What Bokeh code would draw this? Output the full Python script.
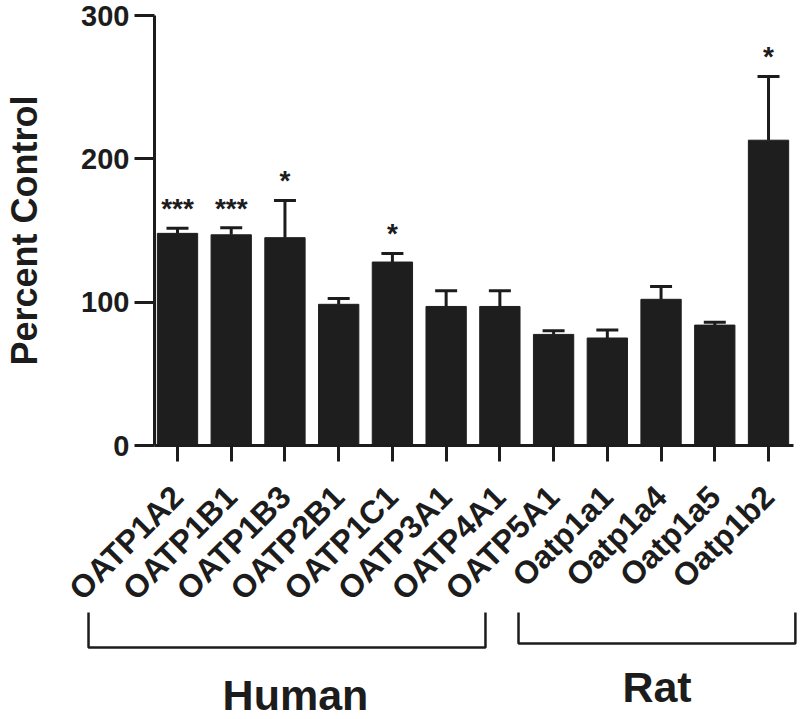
import math
from bokeh.plotting import figure
from bokeh.models import ColumnDataSource, Range1d, FixedTicker, Whisker, TeeHead, LabelSet
from bokeh.layouts import column
from bokeh.embed import file_html
from bokeh.resources import INLINE
from bokeh.core.properties import value

# ---------------- data ----------------
categories = ["OATP1A2", "OATP1B1", "OATP1B3", "OATP2B1", "OATP1C1", "OATP3A1",
              "OATP4A1", "OATP5A1", "Oatp1a1", "Oatp1a4", "Oatp1a5", "Oatp1b2"]
percent_control = [148, 147, 145, 98.5, 128, 97, 97, 77.5, 75, 102, 84, 213]
sem = [3.5, 5, 26, 4, 6, 11, 11, 2.5, 5.5, 9, 2, 44.5]
significance = ["***", "***", "*", "", "*", "", "", "", "", "", "", "*"]
y_ticks = [0, 100, 200, 300]
groups = ["Human", "Rat"]

# ---------------- styling / layout ----------------
INK = "#1c1c1c"
FONT = "Liberation Sans"
W = 800
TOP_H = 625
FRAME_L = 154
FRAME_R = 7
X0, X1 = 0.572, 12.465

positions = list(range(1, len(categories) + 1))
upper = [v + e for v, e in zip(percent_control, sem)]

src = ColumnDataSource(dict(x=positions, top=percent_control, upper=upper,
                            sig=significance, name=categories))

p = figure(width=W, height=TOP_H, x_range=Range1d(X0, X1), y_range=Range1d(0, 300),
           output_backend="svg", toolbar_location=None,
           min_border_left=FRAME_L, min_border_right=FRAME_R, min_border_top=15,
           min_border_bottom=180)
p.frame_align = False
p.outline_line_color = None
p.grid.grid_line_color = None
p.background_fill_color = "white"
p.border_fill_color = "white"

p.vbar(x="x", top="top", bottom=0, width=0.75, source=src,
       fill_color="#1e1e1e", line_color="#1e1e1e", line_width=1)

whisk = Whisker(source=src, base="x", lower="top", upper="upper",
                upper_head=TeeHead(size=22, line_width=3, line_color=INK),
                lower_head=None, line_width=3, line_color=INK)
p.add_layout(whisk)

stars = LabelSet(x="x", y="upper", text="sig", source=src, y_offset=10,
                 text_align="center", text_baseline="alphabetic",
                 text_font=value(FONT), text_font_style="bold",
                 text_font_size="28px", text_color=INK)
p.add_layout(stars)

# y axis
ya = p.yaxis[0]
ya.ticker = FixedTicker(ticks=y_ticks)
ya.axis_label = "Percent Control"
ya.axis_label_text_font = FONT
ya.axis_label_text_font_style = "bold"
ya.axis_label_text_font_size = "36px"
ya.axis_label_text_color = INK
ya.axis_label_standoff = 33
ya.major_label_text_font = FONT
ya.major_label_text_font_style = "bold"
ya.major_label_text_font_size = "29px"
ya.major_label_text_color = INK
ya.major_label_standoff = 5
ya.major_tick_out = 20
ya.major_tick_in = 0
ya.minor_tick_line_color = None
ya.axis_line_width = 3
ya.axis_line_color = INK
ya.major_tick_line_width = 3
ya.major_tick_line_color = INK

# x axis
xa = p.xaxis[0]
xa.ticker = FixedTicker(ticks=positions)
xa.major_label_overrides = {x: c for x, c in zip(positions, categories)}
xa.major_label_orientation = math.pi / 4
xa.major_label_text_font = FONT
xa.major_label_text_font_style = "bold"
xa.major_label_text_font_size = "32px"
xa.major_label_text_color = INK
xa.major_label_standoff = 30
xa.major_tick_out = 16
xa.major_tick_in = 0
xa.minor_tick_line_color = None
xa.axis_line_width = 3
xa.axis_line_color = INK
xa.major_tick_line_width = 3
xa.major_tick_line_color = INK

# ---------------- group brackets ----------------
unit = (W - FRAME_L - FRAME_R) / (X1 - X0)
BX0 = X0 - FRAME_L / unit
BX1 = X1 + FRAME_R / unit
BOT_H = 119
OVERLAP = 25

bracket_left = [-0.656, 7.347]
bracket_right = [6.732, 12.50]
bracket_top = [107, 107]
bracket_base = [72, 76]
label_x = [3.196, 9.925]
label_y = [25, 33]

b = figure(width=W, height=BOT_H, x_range=Range1d(BX0, BX1), y_range=Range1d(0, BOT_H),
           output_backend="svg", toolbar_location=None, min_border=0,
           x_axis_type=None, y_axis_type=None)
b.frame_align = False
b.margin = (-OVERLAP, 0, 0, 0)
b.outline_line_color = None
b.grid.grid_line_color = None

b.multi_line(xs=[[l, l, r, r] for l, r in zip(bracket_left, bracket_right)],
             ys=[[t, h, h, t] for t, h in zip(bracket_top, bracket_base)],
             line_color=INK, line_width=2.5)
b.text(x=label_x, y=label_y, text=groups, text_font=value(FONT),
       text_font_style="bold", text_font_size="43px", text_color=INK,
       text_align="center", text_baseline="alphabetic")

layout = column(p, b)
open("out.html", "w").write(file_html(layout, INLINE))
